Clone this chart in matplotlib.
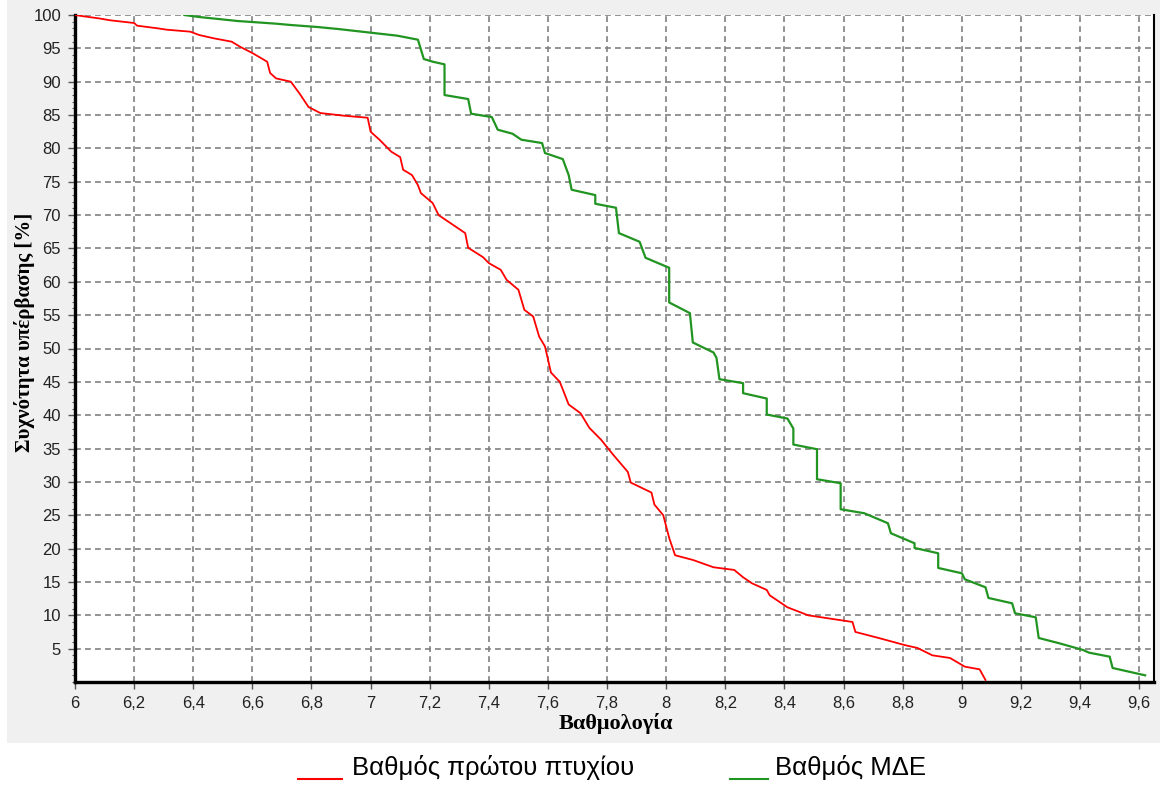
import matplotlib
matplotlib.use('Agg')
import matplotlib.pyplot as plt
from matplotlib.patches import Rectangle
from matplotlib.lines import Line2D
from matplotlib.ticker import MultipleLocator, FuncFormatter

# Βαθμός πρώτου πτυχίου (red)
red_x = [6.00, 6.03, 6.08, 6.12, 6.20, 6.21, 6.28, 6.31, 6.39, 6.42,
         6.47, 6.53, 6.56, 6.60, 6.65, 6.66, 6.68, 6.73, 6.76, 6.79,
         6.83, 6.91, 6.99, 7.00, 7.03, 7.07, 7.10, 7.11, 7.14, 7.16,
         7.17, 7.21, 7.23, 7.27, 7.32, 7.33, 7.38, 7.40, 7.44, 7.46,
         7.50, 7.52, 7.55, 7.57, 7.59, 7.61, 7.64, 7.67, 7.71, 7.74,
         7.78, 7.82, 7.87, 7.88, 7.95, 7.96, 7.99, 8.01, 8.03, 8.09,
         8.16, 8.23, 8.26, 8.29, 8.34, 8.35, 8.41, 8.48, 8.57, 8.63,
         8.64, 8.71, 8.81, 8.85, 8.90, 8.96, 9.01, 9.06, 9.08]
red_y = [100, 99.8, 99.5, 99.2, 98.8, 98.4, 98.0, 97.8, 97.5, 97.0,
         96.5, 96.0, 95.2, 94.3, 93.0, 91.3, 90.5, 90.0, 88.2, 86.2,
         85.3, 84.9, 84.6, 82.5, 81.3, 79.5, 78.7, 76.8, 76.0, 74.5,
         73.3, 71.8, 70.0, 68.8, 67.3, 65.1, 63.7, 62.8, 61.8, 60.3,
         58.8, 55.8, 54.8, 51.8, 50.3, 46.4, 45.0, 41.6, 40.3, 38.1,
         36.3, 34.1, 31.5, 29.9, 28.4, 26.6, 25.0, 21.6, 19.0, 18.3,
         17.2, 16.8, 15.7, 14.8, 13.8, 13.0, 11.2, 10.0, 9.4, 9.0,
         7.5, 6.7, 5.5, 5.1, 4.0, 3.6, 2.3, 1.9, 0.3]

# Βαθμός ΜΔΕ (green)
green_x = [6.37, 6.42, 6.55, 6.68, 6.73, 6.82, 6.89, 6.99, 7.09, 7.16,
           7.18, 7.21, 7.25, 7.25, 7.33, 7.34, 7.41, 7.43, 7.48, 7.51,
           7.58, 7.59, 7.65, 7.67, 7.68, 7.76, 7.76, 7.83, 7.84, 7.91,
           7.93, 8.01, 8.01, 8.08, 8.09, 8.16, 8.17, 8.18, 8.26, 8.26,
           8.34, 8.34, 8.41, 8.43, 8.43, 8.51, 8.51, 8.59, 8.59, 8.67,
           8.75, 8.76, 8.84, 8.84, 8.92, 8.92, 9.00, 9.01, 9.08, 9.09,
           9.17, 9.18, 9.25, 9.26, 9.33, 9.41, 9.43, 9.50, 9.51, 9.62]
green_y = [100, 99.7, 99.1, 98.7, 98.5, 98.2, 97.9, 97.4, 96.9, 96.3,
           93.4, 93.0, 92.6, 88.0, 87.4, 85.2, 84.7, 82.8, 82.2, 81.3,
           80.8, 79.3, 78.4, 76.0, 73.8, 73.0, 71.7, 71.1, 67.3, 66.0,
           63.6, 62.1, 56.9, 55.3, 50.9, 49.4, 48.6, 45.4, 44.8, 43.3,
           42.5, 40.1, 39.5, 38.0, 35.6, 34.9, 30.4, 29.8, 25.9, 25.3,
           23.8, 22.3, 20.8, 20.1, 19.3, 17.1, 16.3, 15.4, 14.2, 12.6,
           11.8, 10.3, 9.7, 6.6, 5.8, 4.8, 4.4, 3.8, 2.1, 1.0]

series_names = ["Βαθμός πρώτου πτυχίου", "Βαθμός ΜΔΕ"]
x_title = "Βαθμολογία"
y_title = "Συχνότητα υπέρβασης [%]"

W, H = 1160, 785
fig = plt.figure(figsize=(W / 100, H / 100), dpi=100, facecolor='white')

# grey panel behind the chart area
fig.add_artist(Rectangle((7 / W, 1 - 743 / H), 1 - 7 / W, 743 / H,
                         transform=fig.transFigure, facecolor='#f0f0f0',
                         edgecolor='none', zorder=-10))

ax = fig.add_axes([75 / W, 1 - 682 / H, (1154 - 75) / W, (682 - 15) / H])
ax.set_facecolor('white')

red_col = '#ff0000'
green_col = '#219421'
ax.plot(red_x, red_y, color=red_col, lw=1.3, zorder=3)
ax.plot(green_x, green_y, color=green_col, lw=1.6, zorder=3)

ax.set_xlim(6, 9.65)
ax.set_ylim(0, 100)
ax.xaxis.set_major_locator(MultipleLocator(0.2))
ax.yaxis.set_minor_locator(MultipleLocator(1))
ax.set_yticks(list(range(5, 101, 5)))

fmt = FuncFormatter(lambda v, p: ('%g' % round(v, 2)).replace('.', ','))
ax.xaxis.set_major_formatter(fmt)

ax.grid(True, which='major', color='#808080', linestyle=(0, (3.5, 2.5)), lw=1.2, zorder=1)

for lab in ax.get_xticklabels() + ax.get_yticklabels():
    lab.set_fontfamily('Liberation Sans')
    lab.set_fontsize(12)
    lab.set_color('#222222')
ax.tick_params(axis='both', which='major', length=5, width=1, color='#555555', pad=5)
ax.tick_params(axis='y', which='minor', length=2.5, width=0.8, color='#555555')

ax.spines['top'].set_visible(False)
ax.spines['left'].set_linewidth(2.4)
ax.spines['bottom'].set_linewidth(2.4)
ax.spines['right'].set_linewidth(1.5)
for s in ('left', 'bottom', 'right'):
    ax.spines[s].set_color('black')

fig.text(616 / W, 1 - 723 / H, x_title, ha='center', va='center',
         family='Liberation Serif', weight='bold', fontsize=16)
fig.text(25 / W, 1 - 332 / H, y_title, ha='center', va='center', rotation=90,
         family='Liberation Serif', weight='bold', fontsize=15)

# legend below the grey panel
fig.add_artist(Line2D([298 / W, 342 / W], [1 - 779 / H] * 2, color=red_col, lw=1.5,
                      transform=fig.transFigure))
fig.text(352 / W, 1 - 775 / H, series_names[0], ha='left', va='baseline',
         family='Liberation Sans', fontsize=18.5)
fig.add_artist(Line2D([730 / W, 768 / W], [1 - 779 / H] * 2, color=green_col, lw=1.5,
                      transform=fig.transFigure))
fig.text(775 / W, 1 - 775 / H, series_names[1], ha='left', va='baseline',
         family='Liberation Sans', fontsize=18.5)

fig.savefig('out.png', dpi=100, facecolor='white')
plt.close(fig)
